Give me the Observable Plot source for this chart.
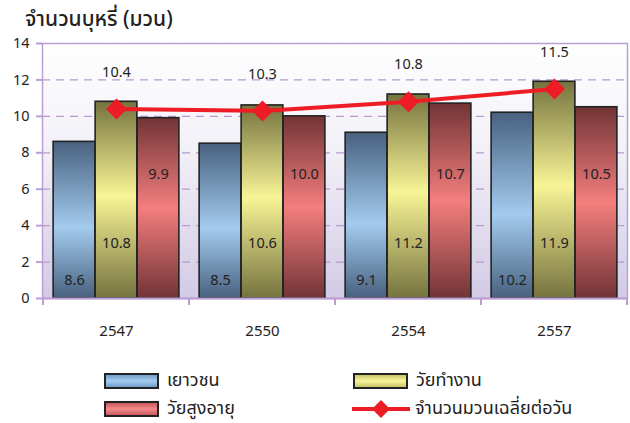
<!DOCTYPE html>
<html>
<head>
<meta charset="utf-8">
<script src="https://cdn.jsdelivr.net/npm/d3@7"></script>
<script src="https://cdn.jsdelivr.net/npm/@observablehq/plot@0.6"></script>
<style>
  body { margin: 0; background: #fff; }
  #wrap { position: relative; width: 630px; height: 423px; font-family: "Noto Sans Thai", "Tahoma", "Loma", "Garuda", "Noto Sans", "DejaVu Sans", sans-serif; color: #222; }
  #title { position: absolute; left: 25px; top: 4px; font-size: 21px; font-weight: 500; white-space: nowrap; line-height: 32px; }
  .leg { position: absolute; display: flex; align-items: center; font-size: 18px; line-height: 20px; height: 20px; white-space: nowrap; }
  .sw { width: 51px; height: 12px; border: 2px solid #222; margin-right: 8px; }
  #chart svg { display: block; }
</style>
</head>
<body>
<div id="wrap">
  <div id="chart"></div>
  <div id="title"></div>
  <div id="legend"></div>
</div>
<script>
const years = ["2547", "2550", "2554", "2557"];
const seriesNames = ["เยาวชน", "วัยทำงาน", "วัยสูงอายุ"];
const youth = [8.6, 8.5, 9.1, 10.2];
const working = [10.8, 10.6, 11.2, 11.9];
const elderly = [9.9, 10.0, 10.7, 10.5];
const avgName = "จำนวนมวนเฉลี่ยต่อวัน";
const avgPerDay = [10.4, 10.3, 10.8, 11.5];
const yTicks = [0, 2, 4, 6, 8, 10, 12, 14];
const titleText = "จำนวนบุหรี่ (มวน)";

const seriesValues = [youth, working, elderly];
const gradIds = ["gBlue", "gYellow", "gRed"];
const labelLevel = [1.0, 3.0, 6.8];

const W = 630, H = 423, mL = 42, mR = 3, mT = 43, mB = 125;
const band = (W - mL - mR) / years.length;
const bw = 42;
const pad = (band - 3 * bw) / 2;

const purple = "#bb9fd4";
const fontFam = "'Noto Sans Thai', Tahoma, Loma, Garuda, 'Noto Sans', 'DejaVu Sans', sans-serif";

const barMarks = [];
const labelMarks = [];
seriesValues.forEach((vals, i) => {
  const rows = years.map((yr, j) => ({year: yr, value: vals[j]}));
  barMarks.push(Plot.barY(rows, {
    x: "year", y: "value",
    insetLeft: pad + i * bw,
    insetRight: band - pad - (i + 1) * bw,
    fill: `url(#${gradIds[i]})`,
    stroke: "#222", strokeWidth: 1.6
  }));
  labelMarks.push(Plot.text(rows, {
    x: "year", y: () => labelLevel[i],
    text: d => d.value.toFixed(1),
    dx: (i - 1) * bw,
    fontSize: 14.5, fill: "#222"
  }));
});

const avgRows = years.map((yr, j) => ({year: yr, value: avgPerDay[j]}));

const plot = Plot.plot({
  width: W, height: H,
  marginLeft: mL, marginRight: mR, marginTop: mT, marginBottom: mB,
  style: {fontFamily: fontFam, fontSize: "13px", color: "#222", background: "transparent"},
  x: {domain: years, padding: 0, label: null},
  y: {domain: [0, 14], label: null},
  marks: [
    Plot.frame({fill: "url(#gBg)", stroke: purple, strokeWidth: 1.5}),
    Plot.gridY(yTicks, {stroke: "#b89ad0", strokeOpacity: 1, strokeDasharray: "8,6", strokeWidth: 1.2}),
    ...barMarks,
    Plot.axisY(yTicks, {tickSize: 6, tickPadding: 7, stroke: purple, strokeWidth: 2, fontSize: 14.5, fill: "#222", label: null}),
    Plot.axisX({tickSize: 0, tickPadding: 27, fontSize: 15, fill: "#222", label: null}),
    Plot.ruleY([0], {stroke: purple, strokeWidth: 2}),
    Plot.line(avgRows, {x: "year", y: "value", stroke: "#ee1c25", strokeWidth: 4}),
    Plot.dot(avgRows, {x: "year", y: "value", symbol: "diamond2", r: 8.5, fill: "#ee1c25", stroke: "#ee1c25"}),
    Plot.text(avgRows, {x: "year", y: "value", text: d => d.value.toFixed(1), dy: -37, fontSize: 14.5, fill: "#222"}),
    ...labelMarks
  ]
});

// gradient definitions
const defs = d3.select(plot).insert("defs", ":first-child");
function vgrad(id, stops) {
  const g = defs.append("linearGradient").attr("id", id)
    .attr("x1", 0).attr("y1", 0).attr("x2", 0).attr("y2", 1);
  stops.forEach(([o, c]) => g.append("stop").attr("offset", o).attr("stop-color", c));
}
vgrad("gBlue", [[0, "#48617f"], [0.55, "#a3cbee"], [1, "#48617f"]]);
vgrad("gYellow", [[0, "#75733f"], [0.48, "#f8f496"], [1, "#75733f"]]);
vgrad("gRed", [[0, "#723436"], [0.5, "#f47e7e"], [1, "#723436"]]);
vgrad("gBg", [[0, "#ffffff"], [0.4, "#f3f1f8"], [1, "#d2cae5"]]);

// group boundary ticks on the x axis, from the plot's own x scale
const xs = plot.scale("x");
const ys = plot.scale("y");
const y0 = ys.apply(0);
const edges = years.map(yr => xs.apply(yr)).concat([xs.apply(years[years.length - 1]) + xs.bandwidth]);
d3.select(plot).append("g").selectAll("line").data(edges).join("line")
  .attr("x1", d => d).attr("x2", d => d).attr("y1", y0).attr("y2", y0 + 7)
  .attr("stroke", purple).attr("stroke-width", 2);

document.getElementById("chart").append(plot);
document.getElementById("title").textContent = titleText;

// legend
const legend = document.getElementById("legend");
const swGrad = [
  "linear-gradient(#6f9ccb, #a7cdf0 50%, #6f9ccb)",
  "linear-gradient(#c8c468, #f8f49a 50%, #c8c468)",
  "linear-gradient(#c95a5c, #f48a8a 50%, #c95a5c)"
];
const legPos = [[104, 371], [353, 371], [104, 399]];
seriesNames.forEach((name, i) => {
  const item = document.createElement("div");
  item.className = "leg";
  item.style.left = legPos[i][0] + "px";
  item.style.top = legPos[i][1] + "px";
  const sw = document.createElement("div");
  sw.className = "sw";
  sw.style.background = swGrad[i];
  item.append(sw);
  const t = document.createElement("span");
  t.textContent = name;
  item.append(t);
  legend.append(item);
});
const li = document.createElement("div");
li.className = "leg";
li.style.left = "352px";
li.style.top = "399px";
li.innerHTML = `<svg width="58" height="18" style="margin-right:5px"><line x1="0" y1="9" x2="58" y2="9" stroke="#ee1c25" stroke-width="4"/><path d="M29,0 L38,9 L29,18 L20,9 Z" fill="#ee1c25"/></svg>`;
const lt = document.createElement("span");
lt.textContent = avgName;
li.append(lt);
legend.append(li);
</script>
</body>
</html>
